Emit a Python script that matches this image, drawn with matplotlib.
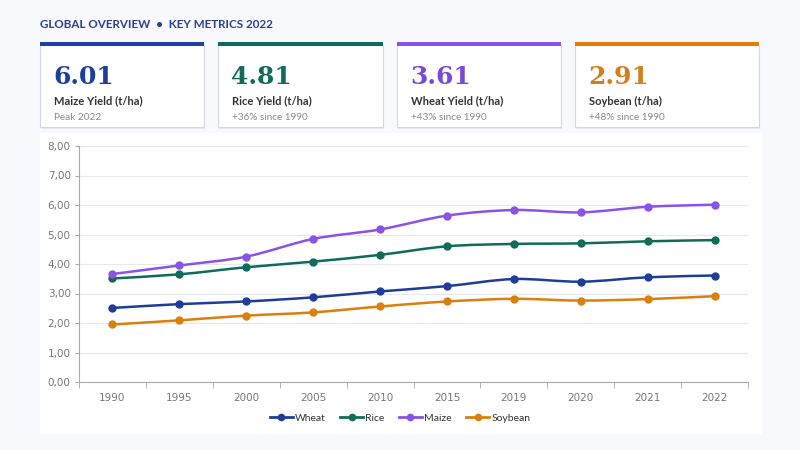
"""Global crop yield overview: KPI cards + yield trend chart."""

import matplotlib
matplotlib.use("Agg")
import matplotlib.pyplot as plt
from matplotlib.patches import Rectangle, PathPatch
from matplotlib.path import Path
from matplotlib.lines import Line2D
from matplotlib.ticker import FuncFormatter, FixedLocator

# ── Data ─────────────────────────────────────────────────────────────────────

years = ["1990", "1995", "2000", "2005", "2010", "2015", "2019", "2020", "2021", "2022"]
wheat = [2.51, 2.64, 2.73, 2.87, 3.07, 3.25, 3.49, 3.40, 3.55, 3.61]
rice = [3.51, 3.65, 3.89, 4.08, 4.31, 4.60, 4.68, 4.70, 4.77, 4.81]
maize = [3.66, 3.95, 4.25, 4.85, 5.17, 5.64, 5.83, 5.75, 5.94, 6.01]
soybean = [1.95, 2.09, 2.25, 2.36, 2.56, 2.73, 2.82, 2.76, 2.81, 2.91]

series_names = ["Wheat", "Rice", "Maize", "Soybean"]

card_values = ["6.01", "4.81", "3.61", "2.91"]
card_labels = ["Maize Yield (t/ha)", "Rice Yield (t/ha)", "Wheat Yield (t/ha)", "Soybean (t/ha)"]
card_notes = ["Peak 2022", "+36% since 1990", "+43% since 1990", "+48% since 1990"]

# ── Styling ──────────────────────────────────────────────────────────────────

BG = "#F8F9FC"
LINE_COLORS = ["#1F3C98", "#0F6B5B", "#8A52E6", "#D9800F"]
CARD_COLORS = ["#1E3FA6", "#0F6B5B", "#8A52E6", "#E07D0C"]
NUM_COLORS = ["#1E3F99", "#116B5A", "#7A48DA", "#D27E1A"]
UI_FONT = ["Lato", "DejaVu Sans"]
W, H = 800, 450


def px(x, y):
    """Pixel (top-left origin) -> figure fraction."""
    return x / W, 1 - y / H


def smooth_path(xs, ys, t=0.16):
    """Cubic bezier path through the points (Catmull-Rom style)."""
    verts = [(xs[0], ys[0])]
    codes = [Path.MOVETO]
    n = len(xs)
    for i in range(n - 1):
        x0, y0 = xs[max(i - 1, 0)], ys[max(i - 1, 0)]
        x1, y1 = xs[i], ys[i]
        x2, y2 = xs[i + 1], ys[i + 1]
        x3, y3 = xs[min(i + 2, n - 1)], ys[min(i + 2, n - 1)]
        c1 = (x1 + (x2 - x0) * t, y1 + (y2 - y0) * t)
        c2 = (x2 - (x3 - x1) * t, y2 - (y3 - y1) * t)
        verts += [c1, c2, (x2, y2)]
        codes += [Path.CURVE4] * 3
    return Path(verts, codes)


fig = plt.figure(figsize=(8, 4.5), dpi=100)
fig.patch.set_facecolor(BG)

# ── Header ───────────────────────────────────────────────────────────────────

fig.text(*px(40, 25), "GLOBAL OVERVIEW  •  KEY METRICS 2022",
         fontsize=8.4, fontweight="bold", color="#2E3F8F", va="center",
         fontfamily=UI_FONT)

# ── KPI cards ────────────────────────────────────────────────────────────────

card_x = [40, 218, 397, 575]
card_w = [164, 165, 164, 184]
for i in range(4):
    x0, w = card_x[i], card_w[i]
    # shadow + body
    fig.patches.append(Rectangle(px(x0 + 1, 129), w / W, 83 / H,
                                 transform=fig.transFigure,
                                 facecolor="#E8EAF0", edgecolor="none", zorder=1))
    fig.patches.append(Rectangle(px(x0, 127), w / W, 82 / H,
                                 transform=fig.transFigure,
                                 facecolor="white", edgecolor="#D5D8E0",
                                 linewidth=0.8, zorder=2))
    fig.patches.append(Rectangle(px(x0, 46), w / W, 4.5 / H,
                                 transform=fig.transFigure,
                                 facecolor=CARD_COLORS[i], edgecolor="none", zorder=3))
    fig.text(*px(x0 + 13, 84), card_values[i], fontsize=18, fontweight="bold",
             color=NUM_COLORS[i], fontfamily="DejaVu Serif", va="baseline", zorder=4)
    fig.text(*px(x0 + 14, 101), card_labels[i], fontsize=8, fontweight="bold",
             color="#333333", va="center", fontfamily=UI_FONT, zorder=4)
    fig.text(*px(x0 + 14, 117), card_notes[i], fontsize=7.2,
             color="#8A8A8A", va="center", fontfamily=UI_FONT, zorder=4)

# ── Chart panel ──────────────────────────────────────────────────────────────

fig.patches.append(Rectangle(px(40, 434), 722 / W, 301 / H,
                             transform=fig.transFigure,
                             facecolor="white", edgecolor="none", zorder=0))

l, b = px(79, 382)
r, t = px(748, 146)
ax = fig.add_axes([l, b, r - l, t - b])
ax.set_facecolor("white")
ax.set_zorder(2)

xs = list(range(len(years)))
for name, vals, color in zip(series_names, [wheat, rice, maize, soybean], LINE_COLORS):
    ax.add_patch(PathPatch(smooth_path(xs, vals), facecolor="none",
                           edgecolor=color, linewidth=1.8, zorder=3))
    ax.plot(xs, vals, linestyle="none", marker="o", markersize=5,
            color=color, zorder=4)

ax.set_xlim(-0.5, len(years) - 0.5)
ax.set_ylim(0, 8)
ax.set_yticks(range(0, 9))
ax.yaxis.set_major_formatter(FuncFormatter(lambda v, _: f"{v:.2f}".replace(".", ",")))
ax.set_xticks(xs)
ax.set_xticklabels(years)
ax.xaxis.set_minor_locator(FixedLocator([i - 0.5 for i in range(len(years) + 1)]))
ax.tick_params(axis="x", which="major", length=0, pad=8, labelsize=7.5, colors="#777777")
ax.tick_params(axis="x", which="minor", length=4, color="#AAAAAA")
ax.tick_params(axis="y", length=3, color="#AAAAAA", labelsize=7.5,
               labelcolor="#777777", pad=3)
ax.grid(axis="y", color="#E8E8EC", linewidth=0.8)
ax.set_axisbelow(True)
for side in ["top", "right"]:
    ax.spines[side].set_visible(False)
for side in ["left", "bottom"]:
    ax.spines[side].set_color("#AAAAAA")
    ax.spines[side].set_linewidth(0.8)

handles = [Line2D([0], [0], color=c, linewidth=2, marker="o", markersize=4.5)
           for c in LINE_COLORS]
fig.legend(handles, series_names, loc="center", bbox_to_anchor=px(400, 418),
           ncol=4, frameon=False, handlelength=2.2, handletextpad=0.2,
           columnspacing=1.4, labelcolor="#333333",
           prop={"family": UI_FONT, "size": 7.5})

fig.savefig("out.png", dpi=100, facecolor=BG)
